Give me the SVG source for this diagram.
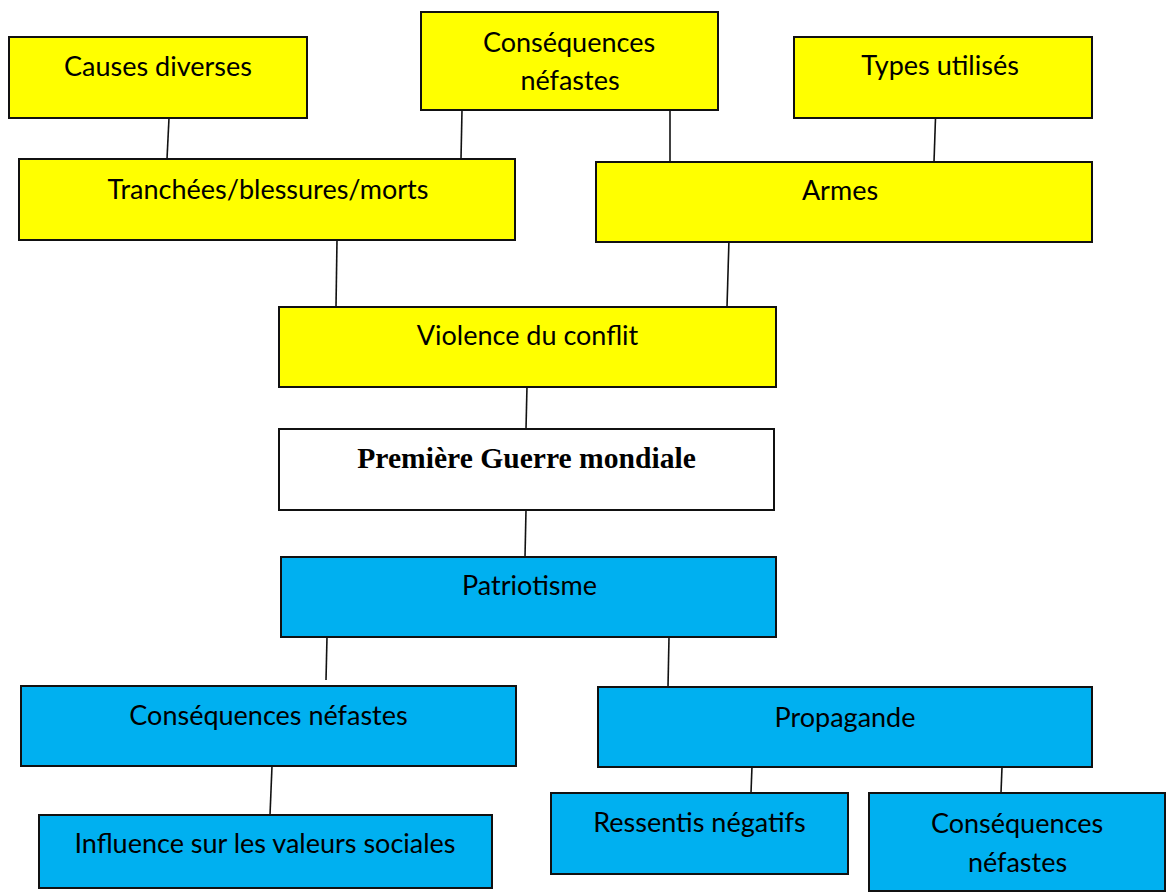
<svg xmlns="http://www.w3.org/2000/svg" width="1167" height="892" viewBox="0 0 1167 892">
<style>
.y{fill:#FFFF00;stroke:#111;stroke-width:2}
.b{fill:#00B0F0;stroke:#111;stroke-width:2}
.w{fill:#FFFFFF;stroke:#111;stroke-width:2}
.t{font-family:Lato,"Open Sans","Liberation Sans",sans-serif;font-size:27px;fill:#000;text-anchor:middle}
.s{font-family:"Liberation Serif","Times New Roman",serif;font-size:29.6px;font-weight:bold;fill:#000;text-anchor:middle}
.c line{stroke:#111;stroke-width:1.6}
</style>
<rect width="1167" height="892" fill="#fff"/>
<g class="c" id="connectors">
<line x1="169" y1="118" x2="167" y2="159"/>
<line x1="462" y1="110" x2="461" y2="159"/>
<line x1="670" y1="110" x2="670" y2="162"/>
<line x1="935.5" y1="118" x2="934" y2="162"/>
<line x1="337" y1="240" x2="336" y2="307"/>
<line x1="729" y1="239" x2="727" y2="307"/>
<line x1="527" y1="386" x2="526" y2="429"/>
<line x1="526" y1="510" x2="525" y2="557"/>
<line x1="327" y1="637" x2="326" y2="680"/>
<line x1="669" y1="637" x2="668" y2="687"/>
<line x1="272" y1="766" x2="270" y2="815"/>
<line x1="752" y1="766" x2="751" y2="793"/>
<line x1="1002" y1="767" x2="1001" y2="793"/>
</g>
<g id="causes"><rect class="y" x="9" y="37" width="298" height="81"/><text class="t" x="158" y="76">Causes diverses</text></g>
<g id="consequences-top"><rect class="y" x="421" y="12" width="297" height="98"/><text class="t" x="569" y="52">Conséquences</text><text class="t" x="570" y="90">néfastes</text></g>
<g id="types"><rect class="y" x="794" y="37" width="298" height="81"/><text class="t" x="940" y="75">Types utilisés</text></g>
<g id="tranchees"><rect class="y" x="19" y="159" width="496" height="81"/><text class="t" x="268" y="199">Tranchées/blessures/morts</text></g>
<g id="armes"><rect class="y" x="596" y="162" width="496" height="80"/><text class="t" x="840" y="200">Armes</text></g>
<g id="violence"><rect class="y" x="279" y="307" width="497" height="80"/><text class="t" x="527.5" y="345">Violence du conflit</text></g>
<g id="premiere"><rect class="w" x="279" y="429" width="495" height="81"/><text class="s" x="526.5" y="468">Première Guerre mondiale</text></g>
<g id="patriotisme"><rect class="b" x="281" y="557" width="495" height="80"/><text class="t" x="529.5" y="595">Patriotisme</text></g>
<g id="consequences-left"><rect class="b" x="21" y="686" width="495" height="80"/><text class="t" x="268.5" y="725">Conséquences néfastes</text></g>
<g id="propagande"><rect class="b" x="598" y="687" width="494" height="80"/><text class="t" x="845" y="727">Propagande</text></g>
<g id="influence"><rect class="b" x="39" y="815" width="453" height="73"/><text class="t" x="265" y="853">Influence sur les valeurs sociales</text></g>
<g id="ressentis"><rect class="b" x="551" y="793" width="297" height="81"/><text class="t" x="699.5" y="832">Ressentis négatifs</text></g>
<g id="consequences-right"><rect class="b" x="869" y="793" width="296" height="98"/><text class="t" x="1017" y="833">Conséquences</text><text class="t" x="1017.5" y="872">néfastes</text></g>
</svg>
